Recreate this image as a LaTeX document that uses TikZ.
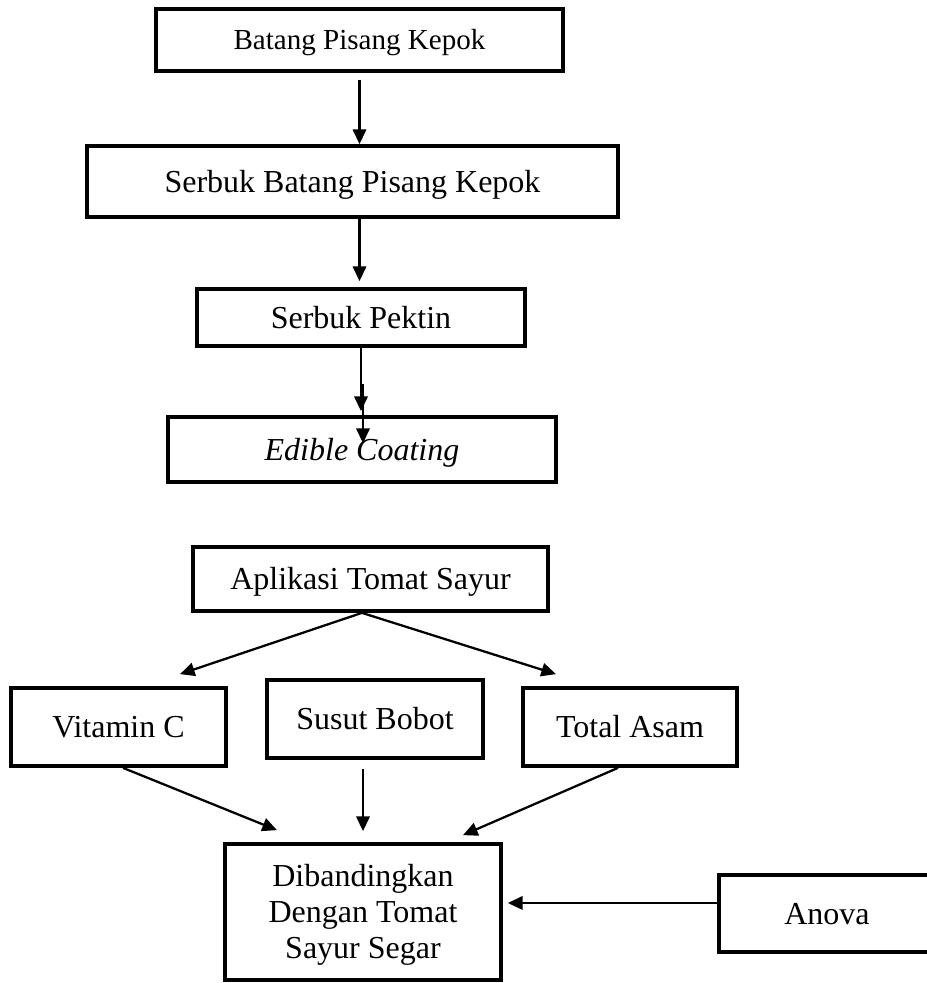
\documentclass[tikz,border=0pt]{standalone}
\usepackage{fontspec}
\setmainfont{Liberation Serif}
\usetikzlibrary{arrows.meta,calc}
\begin{document}
\begin{tikzpicture}[x=0.75pt,y=-0.75pt,
  basebox/.style={draw, line width=2.8pt, rectangle, inner sep=0pt, font=\fontsize{24}{27}\selectfont},
  box/.style={basebox, text height=15.9pt, text depth=0pt},
  arr/.style={line width=1.7pt, -{Triangle[length=11pt,width=10pt]}}]
\path[use as bounding box, clip] (0,0) rectangle (927,983);
\fill[white] (0,0) rectangle (927,983);

\node[box, minimum width=305.25pt, minimum height=46.5pt, font=\fontsize{21.8}{26}\selectfont, text height=14.4pt] (b1) at (359.5,40) {Batang Pisang Kepok};
\node[box, minimum width=398.25pt, minimum height=53.25pt] (b2) at (352.5,181.5) {Serbuk Batang Pisang Kepok};
\node[box, minimum width=246pt, minimum height=42.75pt] (b3) at (361,317.5) {Serbuk Pektin};
\node[box, minimum width=291pt, minimum height=48.75pt, font=\fontsize{24}{27}\selectfont\itshape] (b4) at (362,449.5) {Edible Coating};

\node[box, minimum width=266.25pt, minimum height=48pt] (ap) at (370.5,579) {Aplikasi Tomat Sayur};
\node[box, minimum width=161.25pt, minimum height=58.5pt] (vc) at (118.5,727) {Vitamin C};
\node[box, minimum width=162pt, minimum height=58.5pt] (ss) at (375,719) {Susut Bobot};
\node[box, minimum width=160.5pt, minimum height=58.5pt] (ta) at (630,727) {Total Asam};
\node[basebox, align=center, minimum width=207pt, minimum height=102pt] (dib) at (363,912) {};
\node[align=center, inner sep=0pt, font=\fontsize{24}{27}\selectfont] (dibt) at ([yshift=-2pt]dib.center) {Dibandingkan\\Dengan Tomat\\Sayur Segar};
\node[box, minimum width=162pt, minimum height=57.75pt] (an) at (827,913.5) {Anova};

% top chain
\draw[arr] ([yshift=-5.25pt]b1.south) -- (b2.north -| b1.south);
\coordinate (t2) at ([yshift=4.5pt]b3.north);
\draw[arr] (b2.south -| b1.south) -- (t2 -| b1.south);
\coordinate (t3) at ([yshift=3pt]b4.north);
\draw[arr] (b3.south) -- (t3 -| b3.south);
\draw[arr] ([xshift=1.5pt,yshift=-27pt]b3.south) -- ([xshift=1.5pt,yshift=-21pt]b4.north -| b3.south);

% fan out
\coordinate (apx) at ([xshift=-6.4pt]ap.south);
\draw[arr] (apx) -- ([xshift=46.1pt,yshift=9pt]vc.north);
\draw[arr] (apx) -- ([xshift=-55.5pt,yshift=9pt]ta.north);

% fan in
\draw[arr] ([xshift=3.4pt]vc.south) -- ([xshift=-64.5pt,yshift=9pt]dib.north);
\draw[arr] ([xshift=-9pt,yshift=-6.75pt]ss.south) -- ([yshift=8.25pt]dib.north);
\draw[arr] ([xshift=-9pt]ta.south) -- ([xshift=75pt,yshift=5.25pt]dib.north);

% anova
\coordinate (aw) at ([yshift=7.9pt]an.west);
\coordinate (de) at ([xshift=3.75pt]dib.east);
\draw[arr] (aw) -- (de |- aw);
\end{tikzpicture}
\end{document}
